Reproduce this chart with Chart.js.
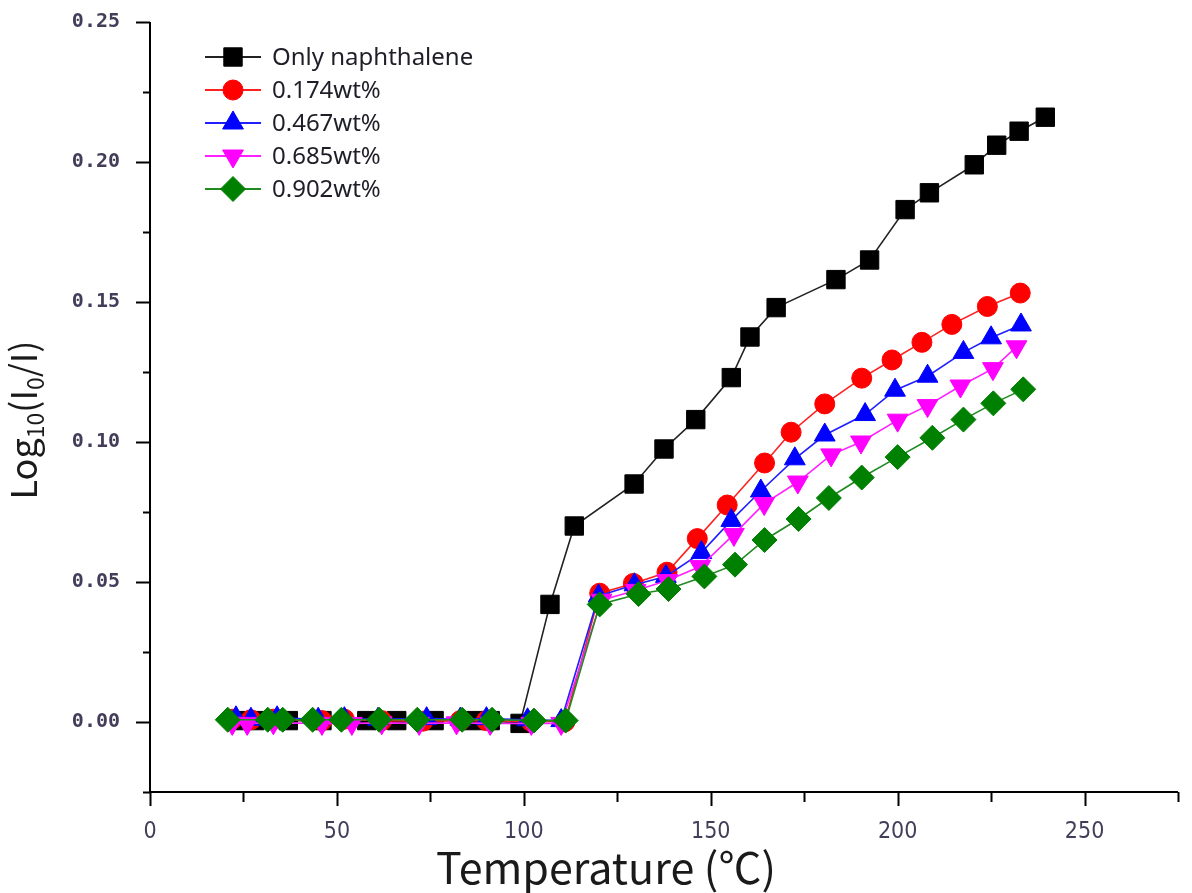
<!DOCTYPE html>
<html>
<head>
<meta charset="utf-8">
<title>Log10(I0/I) vs temperature</title>
<script src="https://cdn.jsdelivr.net/npm/chart.js@4/dist/chart.umd.min.js"></script>
<style>
  html, body { margin: 0; padding: 0; background: #fff; }
</style>
</head>
<body>
<canvas id="chart" width="1192" height="893"></canvas>
<script>
// temperature (°C) and log10(I0/I) for each sample
const tempNaph = [23, 28, 37, 46, 58, 66, 76, 86, 91, 99, 107, 113.5, 129.5, 137.5, 146, 155.5, 160.5, 167.5, 183.5, 192.5, 202, 208.5, 220.5, 226.5, 232.5, 239.5];
const absNaph  = [0.0005, 0.0005, 0.0005, 0.0005, 0.0005, 0.0005, 0.0005, 0.0005, 0.0005, -0.0005, 0.042, 0.070, 0.085, 0.0975, 0.108, 0.123, 0.1375, 0.148, 0.158, 0.165, 0.183, 0.189, 0.199, 0.206, 0.211, 0.216];

const temp174 = [22, 27, 33, 46, 52, 62, 73, 83, 90, 102, 111, 120.3, 129.3, 138.3, 146.4, 154.4, 164.4, 171.5, 180.5, 190.4, 198.5, 206.5, 214.5, 224, 232.8];
const abs174  = [0.001, 0.0008, 0.001, 0.0005, 0.001, 0.0005, 0.0003, 0.0005, 0.0005, 0.0002, 0.0001, 0.046, 0.0495, 0.0535, 0.0655, 0.0775, 0.0925, 0.1035, 0.1136, 0.1228, 0.1293, 0.1356, 0.142, 0.1484, 0.1532];

const temp467 = [23, 27, 34, 45, 52, 61, 74, 83, 90, 101, 110, 120, 129.6, 138, 147.5, 155.5, 163.4, 172.5, 180.5, 191.3, 199.3, 208, 217.6, 225, 233];
const abs467  = [0.0015, 0.001, 0.0015, 0.001, 0.0012, 0.001, 0.0012, 0.001, 0.0012, 0.0008, 0.0005, 0.045, 0.049, 0.052, 0.0605, 0.072, 0.0825, 0.094, 0.1025, 0.1098, 0.1185, 0.1235, 0.132, 0.1372, 0.1418];

const temp685 = [22, 26, 33, 46, 54, 62, 72, 82, 91, 102, 110, 120.8, 129.9, 138.4, 147.2, 156.2, 164.3, 173.3, 182.2, 190.2, 200, 208, 216.8, 225.5, 231.8];
const abs685  = [-0.0005, -0.0005, -0.0003, -0.0005, -0.0005, -0.0003, -0.0005, -0.0003, -0.0005, -0.0005, -0.0005, 0.0435, 0.047, 0.0505, 0.0555, 0.067, 0.078, 0.0857, 0.0954, 0.100, 0.1078, 0.113, 0.120, 0.1262, 0.134];

const temp902 = [20.8, 31.5, 35.5, 43.5, 51.2, 61.3, 71.5, 83.5, 91.5, 102.7, 111.2, 120.3, 130.7, 138.7, 148.3, 156.5, 164.4, 173.5, 181.6, 190.4, 200, 209.3, 217.6, 225.6, 233.6];
const abs902  = [0.0008, 0.0008, 0.0008, 0.0008, 0.0008, 0.0008, 0.0008, 0.0008, 0.0008, 0.0005, 0.0005, 0.042, 0.0457, 0.0475, 0.052, 0.0562, 0.065, 0.0725, 0.080, 0.0873, 0.0946, 0.1015, 0.108, 0.1138, 0.1188];

const seriesNames = ['Only naphthalene', '0.174wt%', '0.467wt%', '0.685wt%', '0.902wt%'];

const toPoints = (xs, ys) => xs.map((t, i) => ({ x: t, y: ys[i] }));

function series(name, xs, ys, color, lineColor, style, radius, rotation, order) {
  return {
    label: name,
    data: toPoints(xs, ys),
    showLine: true,
    borderColor: lineColor,
    borderWidth: 1.6,
    backgroundColor: color,
    pointBackgroundColor: color,
    pointBorderColor: color,
    pointBorderWidth: 1,
    pointStyle: style,
    pointRadius: radius,
    pointHoverRadius: radius,
    pointRotation: rotation,
    order: order
  };
}

const datasets = [
  series(seriesNames[0], tempNaph, absNaph, '#000000', '#222222', 'rect', 13, 0, 4),
  series(seriesNames[1], temp174, abs174, '#ff0000', '#ff2020', 'circle', 10, 0, 3),
  series(seriesNames[2], temp467, abs467, '#0000ff', '#2020ff', 'triangle', 12, 0, 2),
  series(seriesNames[3], temp685, abs685, '#ff00ff', '#ff20ff', 'triangle', 12, 180, 1),
  series(seriesNames[4], temp902, abs902, '#008000', '#208a20', 'rectRot', 12.5, 0, 0)
];

const isMajorY = v => Math.abs(Math.round(v * 1000)) % 50 === 0;
const isMajorX = v => Math.round(v) % 50 === 0;

// axis lines, in/out tick marks, axis titles and the inset legend
const decorations = {
  id: 'decorations',
  afterDraw(chart) {
    const { ctx, chartArea: a, scales: { x, y } } = chart;
    ctx.save();
    ctx.strokeStyle = '#000';
    ctx.lineWidth = 2;
    ctx.beginPath();
    ctx.moveTo(a.left, a.top);
    ctx.lineTo(a.left, a.bottom + 1);
    ctx.moveTo(a.left - 1, a.bottom);
    ctx.lineTo(a.right, a.bottom);
    y.ticks.forEach(t => {
      const py = Math.round(y.getPixelForValue(t.value)) + 0.5;
      const len = isMajorY(t.value) ? 14 : 7;
      ctx.moveTo(a.left - len, py);
      ctx.lineTo(a.left, py);
    });
    x.ticks.forEach(t => {
      const px = Math.round(x.getPixelForValue(t.value)) + 0.5;
      const len = isMajorX(t.value) ? 14 : 10;
      ctx.moveTo(px, a.bottom);
      ctx.lineTo(px, a.bottom + len);
    });
    ctx.stroke();

    // x title
    ctx.fillStyle = '#1a1a1a';
    ctx.font = '43px "Noto Sans CJK SC", "Noto Sans", sans-serif';
    ctx.textAlign = 'center';
    ctx.textBaseline = 'alphabetic';
    ctx.fillText('Temperature (\u2103)', 606, 884);

    // y title with subscripts
    const big = '36px "Noto Sans CJK SC", "Noto Sans", sans-serif';
    const small = '23px "Noto Sans CJK SC", "Noto Sans", sans-serif';
    const parts = [['Log', big, 0], ['10', small, 7], ['(I', big, 0], ['0', small, 7], ['/I)', big, 0]];
    let total = 0;
    parts.forEach(p => { ctx.font = p[1]; total += ctx.measureText(p[0]).width; });
    ctx.translate(37, 420);
    ctx.rotate(-Math.PI / 2);
    ctx.textAlign = 'left';
    let cx = -total / 2;
    parts.forEach(p => {
      ctx.font = p[1];
      ctx.fillText(p[0], cx, p[2]);
      cx += ctx.measureText(p[0]).width;
    });
    ctx.restore();

    // legend
    ctx.save();
    chart.data.datasets.forEach((ds, i) => {
      const ly = 57 + i * 33;
      ctx.strokeStyle = ds.borderColor;
      ctx.lineWidth = 2;
      ctx.beginPath();
      ctx.moveTo(205, ly);
      ctx.lineTo(261, ly);
      ctx.stroke();
      ctx.fillStyle = ds.pointBackgroundColor;
      ctx.strokeStyle = ds.pointBorderColor;
      ctx.lineWidth = 1;
      Chart.helpers.drawPoint(ctx, {
        pointStyle: ds.pointStyle,
        rotation: ds.pointRotation,
        radius: ds.pointRadius,
        borderWidth: 1
      }, 233, ly);
      ctx.fillStyle = '#1e1e28';
      ctx.font = '24px "Noto Sans", sans-serif';
      ctx.textAlign = 'left';
      ctx.textBaseline = 'middle';
      ctx.fillText(ds.label, 272, ly + 1);
    });
    ctx.restore();
  }
};

new Chart(document.getElementById('chart').getContext('2d'), {
  type: 'scatter',
  data: { datasets: datasets },
  options: {
    responsive: false,
    animation: false,
    layout: { autoPadding: false, padding: { top: 22, right: 14, left: 0, bottom: 0 } },
    plugins: {
      legend: { display: false },
      tooltip: { enabled: false },
      title: { display: false }
    },
    scales: {
      x: {
        type: 'linear',
        min: 0,
        max: 275,
        grid: { display: false },
        border: { display: false },
        ticks: {
          stepSize: 25,
          autoSkip: false,
          maxRotation: 0,
          padding: 18,
          color: '#443d5a',
          font: { family: '"Liberation Sans Narrow", "DejaVu Sans Condensed", sans-serif', size: 23 },
          callback: v => (isMajorX(v) ? String(Math.round(v)) : '')
        },
        afterFit: s => { s.height = 101; s.paddingLeft = 0; s.paddingRight = 0; }
      },
      y: {
        min: -0.025,
        max: 0.25,
        grid: { display: false },
        border: { display: false },
        ticks: {
          stepSize: 0.025,
          autoSkip: false,
          padding: 22,
          color: '#443d5a',
          font: { family: '"DejaVu Sans Mono", monospace', size: 20, weight: 'bold' },
          callback: v => (isMajorY(v) ? (Math.abs(v) < 1e-9 ? 0 : v).toFixed(2) : '')
        },
        afterFit: s => { s.width = 150; s.paddingTop = 0; s.paddingBottom = 0; }
      }
    }
  },
  plugins: [decorations]
});
</script>
</body>
</html>
